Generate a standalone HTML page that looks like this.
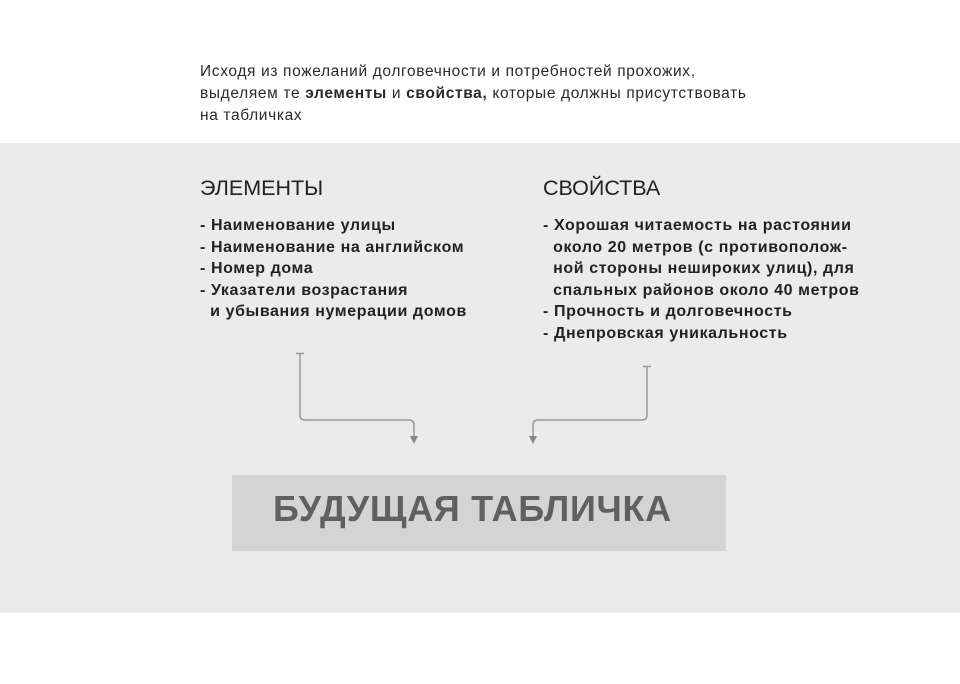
<!DOCTYPE html>
<html><head><meta charset="utf-8"><style>
body{margin:0;width:960px;height:684px;background:#fff;position:relative;overflow:hidden;font-family:"Liberation Sans","DejaVu Sans",sans-serif;color:#1e1e1e}
.a{position:absolute;white-space:nowrap}
.intro{left:200px;top:61px;font-size:15.5px;line-height:22px;color:#2a2a2a;letter-spacing:0.65px}
.panel{position:absolute;left:0;top:143px;width:960px;height:470px;background:#ebebeb}
.h{font-size:21.5px;top:176px;color:#222}
.list{top:215px;font-size:16px;font-weight:bold;line-height:21.6px;color:#222;letter-spacing:0.6px}
.box{position:absolute;left:232px;top:475px;width:494px;height:76px;background:#d4d4d4}
.bt{left:273px;top:488px;font-size:36px;font-weight:bold;color:#606060;letter-spacing:0.7px}
</style></head><body>
<div class="a intro">Исходя из пожеланий долговечности и потребностей прохожих,<br>выделяем те <b>элементы</b> и <b>свойства,</b> которые должны присутствовать<br>на табличках</div>
<div class="panel"></div>
<div class="a h" style="left:200px">ЭЛЕМЕНТЫ</div>
<div class="a h" style="left:543px">СВОЙСТВА</div>
<div class="a list" style="left:200px">- Наименование улицы<br>- Наименование на английском<br>- Номер дома<br>- Указатели возрастания<br>&nbsp;&nbsp;и убывания нумерации домов</div>
<div class="a list" style="left:543px">- Хорошая читаемость на растоянии<br>&nbsp;&nbsp;около 20 метров (с противополож-<br>&nbsp;&nbsp;ной стороны нешироких улиц), для<br>&nbsp;&nbsp;спальных районов около 40 метров<br>- Прочность и долговечность<br>- Днепровская уникальность</div>
<svg class="a" style="left:0;top:0" width="960" height="684">
<g fill="none" stroke="#999" stroke-width="1.5">
<path d="M296 353.5h8M300 353.5V415q0 5 5 5h104q5 0 5 5v14"/>
<path d="M643 366.5h8M647 366.5V415q0 5-5 5H538q-5 0-5 5v14"/>
</g>
<path d="M410 436h8l-4 8z M529 436h8l-4 8z" fill="#888"/>
</svg>
<div class="box"></div>
<div class="a bt">БУДУЩАЯ ТАБЛИЧКА</div>
</body></html>
